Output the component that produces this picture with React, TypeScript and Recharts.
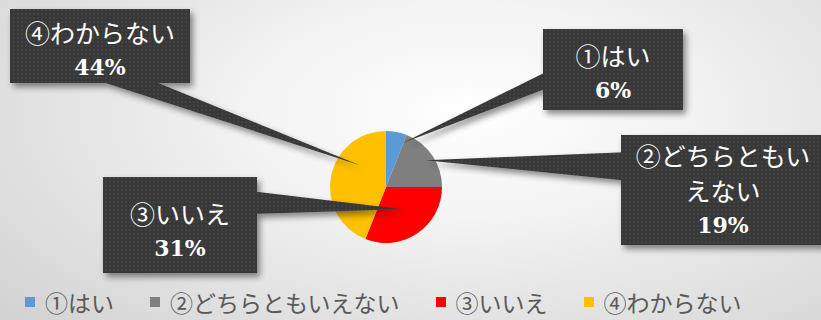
import { Cell, Legend, Pie, PieChart } from 'recharts';

const categories = ['①はい', '②どちらともいえない', '③いいえ', '④わからない'];
const shares = [6, 19, 31, 44];
const colors = ['#5B9BD5', '#7F7F7F', '#FF0000', '#FFC000'];

const data = categories.map((name, i) => ({ name, value: shares[i], color: colors[i] }));

// callout boxes, same order as categories: box = [x, y, w, h], base = where the pointer leaves the box
const callouts = [
  { box: [543, 29, 140, 81], base: [[550, 70], [550, 87]], tipAngle: -10, tipRadius: 0.84, wrap: 10, textY: 55 },
  { box: [621, 135, 204, 110], base: [[630, 152], [630, 181]], tipAngle: 0, tipRadius: 0.85, wrap: 7, textY: 155 },
  { box: [103, 177, 154, 96], base: [[250, 191], [250, 214]], tipAngle: 3, tipRadius: 0.5, wrap: 10, textY: 213 },
  { box: [10, 9, 180, 74], base: [[84, 76], [141, 76]], tipAngle: -29, tipRadius: 0.61, wrap: 10, textY: 32 },
];

const RAD = Math.PI / 180;
const LINE = 35;

function Callout(props: any) {
  const { cx, cy, midAngle, outerRadius, percent, index } = props;
  const c = callouts[index];
  const a = (midAngle + c.tipAngle) * RAD;
  const r = outerRadius * c.tipRadius;
  const tx = cx + r * Math.cos(a);
  const ty = cy - r * Math.sin(a);
  const [bx, by, bw, bh] = c.box;
  const name = categories[index];
  const lines: string[] = [];
  for (let i = 0; i < name.length; i += c.wrap) lines.push(name.slice(i, i + c.wrap));
  const midX = bx + bw / 2;

  return (
    <g>
      {index === 0 && (
        <defs>
          <pattern id="dots" width="4" height="4" patternUnits="userSpaceOnUse">
            <rect width="4" height="4" fill="#383838" />
            <circle cx="2" cy="2" r="1" fill="#474747" />
          </pattern>
          <filter id="shadow" x="-20%" y="-20%" width="140%" height="150%">
            <feDropShadow dx="3" dy="4" stdDeviation="3" floodColor="#000" floodOpacity="0.45" />
          </filter>
        </defs>
      )}
      <g filter="url(#shadow)">
        <polygon
          points={`${c.base[0][0]},${c.base[0][1]} ${tx},${ty} ${c.base[1][0]},${c.base[1][1]}`}
          fill="url(#dots)"
        />
        <rect x={bx} y={by} width={bw} height={bh} fill="url(#dots)" />
      </g>
      {lines.map((ln, i) => (
        <text
          key={i}
          x={midX}
          y={c.textY + i * LINE}
          textAnchor="middle"
          dominantBaseline="central"
          fill="#ffffff"
          fontFamily='"Noto Sans CJK JP", sans-serif'
          fontSize={25}
        >
          {ln}
        </text>
      ))}
      <text
        x={midX}
        y={c.textY + lines.length * LINE}
        textAnchor="middle"
        dominantBaseline="central"
        fill="#ffffff"
        fontFamily='"DejaVu Serif", serif'
        fontWeight="bold"
        fontSize={22}
      >
        {`${Math.round(percent * 100)}%`}
      </text>
    </g>
  );
}

const renderLegend = () => (
  <div
    style={{
      display: 'flex',
      alignItems: 'center',
      fontFamily: '"Noto Sans CJK JP", sans-serif',
      fontSize: 23,
      lineHeight: '28px',
      color: '#595959',
      whiteSpace: 'nowrap',
    }}
  >
    {data.map((d) => (
      <div key={d.name} style={{ display: 'flex', alignItems: 'center', marginRight: 36 }}>
        <span style={{ display: 'inline-block', width: 10, height: 10, background: d.color, marginRight: 10 }} />
        <span>{d.name}</span>
      </div>
    ))}
  </div>
);

export default function App() {
  return (
    <div
      style={{
        position: 'absolute',
        left: 0,
        top: 0,
        width: 821,
        height: 320,
        overflow: 'hidden',
        background: 'radial-gradient(ellipse 75% 95% at 57% 35%, #ffffff 0%, #f3f3f3 35%, #d3d3d3 100%)',
      }}
    >
      <PieChart width={821} height={320} margin={{ top: 0, right: 0, bottom: 0, left: 0 }}>
        <Pie
          data={data}
          dataKey="value"
          nameKey="name"
          cx={386}
          cy={187}
          outerRadius={56}
          startAngle={90}
          endAngle={-270}
          stroke="none"
          label={Callout}
          labelLine={false}
          isAnimationActive={false}
        >
          {data.map((d, i) => (
            <Cell key={`cell-${i}`} fill={d.color} />
          ))}
        </Pie>
        <Legend content={renderLegend} wrapperStyle={{ left: 25, top: 288, width: 790, height: 28 }} />
      </PieChart>
    </div>
  );
}
